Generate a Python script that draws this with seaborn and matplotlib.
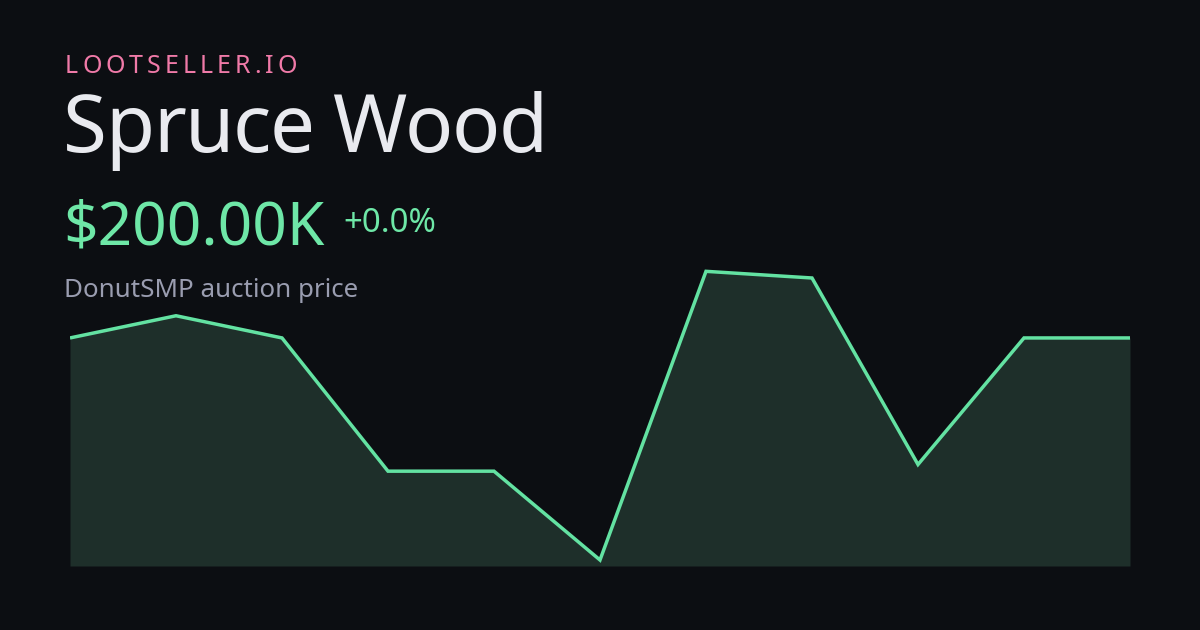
import matplotlib
matplotlib.use("Agg")
import matplotlib.pyplot as plt
from matplotlib.font_manager import FontProperties
import seaborn as sns
import pandas as pd

# ---- data ----
brand = "LOOTSELLER.IO"
item_name = "Spruce Wood"
price_label = "$200.00K"
change_label = "+0.0%"
subtitle = "DonutSMP auction price"
points = list(range(11))
prices_k = [200, 210, 200, 140, 140, 100, 230, 227, 143, 200, 200]

BG = "#0c0e12"
LINE = "#63e2a2"
FILL = "#1e2f2a"
PINK = "#f07aa8"
WHITE = "#e9eaef"
GRAY = "#9a9db0"
GREEN = "#6ee7a7"

sns.set_theme(style="dark")
plt.rcParams['font.family'] = ['Noto Sans', 'DejaVu Sans']

W, H = 1200, 630
fig = plt.figure(figsize=(12, 6.3), dpi=100, facecolor=BG)

def fy(px):
    return 1 - px / H

def fs(px):
    return px * 0.72

# chart axes
top_px, bot_px = 266, 566
ax = fig.add_axes([70 / W, fy(bot_px), 1060 / W, (bot_px - top_px) / H])
ax.set_facecolor("none")
df = pd.DataFrame({"i": points, "p": prices_k})
ylo = 97.3
yhi = 232.4
ax.fill_between(df["i"], df["p"], ylo, color=FILL, linewidth=0, zorder=1)
sns.lineplot(data=df, x="i", y="p", ax=ax, color=LINE, linewidth=2.5, zorder=3)
ax.set_xlim(points[0], points[-1])
ax.set_ylim(ylo, yhi)
ax.axis("off")
for ln in ax.get_lines():
    ln.set_solid_joinstyle("miter")
    ln.set_solid_capstyle("butt")

fig.canvas.draw()
renderer = fig.canvas.get_renderer()

def width_of(s, size_px):
    prop = FontProperties(family=['Noto Sans', 'DejaVu Sans'], size=fs(size_px))
    w, h, d = renderer.get_text_width_height_descent(s, prop, ismath=False)
    return w

def tracked(s, x0, base_px, size_px, color, track):
    sentinel = "|"
    ws = width_of(sentinel, size_px)
    for i, ch in enumerate(s):
        if ch == " ":
            continue
        adv = 0 if i == 0 else width_of(s[:i] + sentinel, size_px) - ws - (width_of(s[0] + sentinel, size_px) - ws - width_of(s[0], size_px)) * 0
        if i > 0:
            # offset relative to first char ink-left
            adv = width_of(s[:i] + sentinel, size_px) - ws
        fig.text((x0 + adv + i * track) / W, fy(base_px), ch, color=color,
                 fontsize=fs(size_px), va="baseline", ha="left")

tracked(brand, 65, 73, 25, PINK, 4.0)
tracked(item_name, 63, 152, 80, WHITE, -1.5)
fig.text(63 / W, fy(244), price_label, color=GREEN, fontsize=fs(60.5), va="baseline", ha="left")
fig.text(343 / W, fy(232.5), change_label, color=GREEN, fontsize=fs(33), va="baseline", ha="left")
fig.text(64 / W, fy(297), subtitle, color=GRAY, fontsize=fs(25.9), va="baseline", ha="left")

fig.savefig("out.png", dpi=100, facecolor=BG)
